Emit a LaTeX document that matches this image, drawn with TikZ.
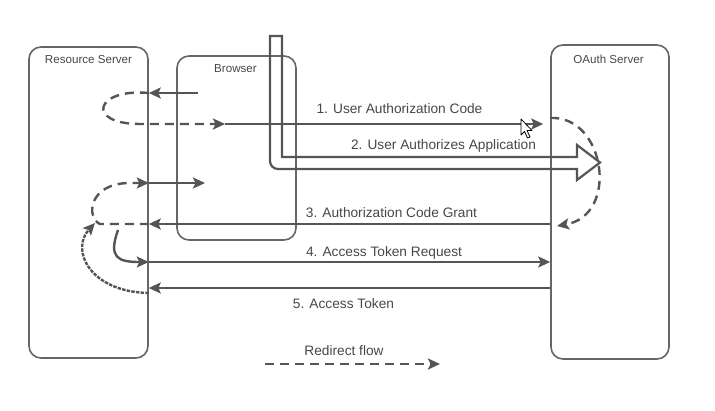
\documentclass[tikz,border=0pt]{standalone}
\usepackage{fontspec}
\setmainfont{Liberation Sans}
\usetikzlibrary{arrows.meta,calc}
\definecolor{ln}{HTML}{555555}
\definecolor{bx}{HTML}{666666}
\definecolor{tx}{HTML}{474747}
\begin{document}
\begin{tikzpicture}[x=1pt,y=-1pt,
  server/.style={draw=bx,line width=1.6pt,rounded corners=12pt,inner sep=0pt},
  title/.style={text=tx,font=\fontsize{11.6}{13}\selectfont,anchor=base,inner sep=0pt},
  lbl/.style={text=tx,font=\fontsize{13.7}{16}\selectfont,anchor=base,inner sep=0pt},
  flow/.style={draw=ln,line width=2.4pt,-{Stealth[length=12pt,width=11pt,inset=2.5pt]}},
  redir/.style={flow,dash pattern=on 9pt off 6pt},
  dotflow/.style={flow,dash pattern=on 3.5pt off 1.2pt},
  hollow/.style={draw=ln,line width=2.2pt,line join=miter},
  pointer/.style={fill=white,draw=black,line width=0.8pt,line join=round}
]
\path[use as bounding box] (0,0) rectangle (715,410);

% servers
\node[server,minimum width=119pt,minimum height=311pt] (rs) at (88.5,202.5) {};
\node[server,minimum width=119pt,minimum height=184pt] (br) at (236.5,148) {};
\node[server,minimum width=118pt,minimum height=314pt] (oa) at (610,202) {};
\node[title] (rst) at (88.5,63.2) {Resource Server};
\node[title] (brt) at (235.5,72.2) {Browser};
\node[title] (oat) at (608.5,63.2) {OAuth Server};

% helper coordinates
\coordinate (p1) at (198,93);
\coordinate (q1) at (225,124);
\coordinate (a1) at (0,118);
\coordinate (a2) at (557,226);
\coordinate (a3) at (0,224);
\coordinate (a4) at (0,183);
\coordinate (b4) at (205,183);
\coordinate (g0) at (118,230);
\coordinate (a5) at (0,262);
\coordinate (a6) at (0,288);
\coordinate (a7) at (0,293);
\coordinate (j1) at (95,223);
\coordinate (lg0) at (265,364);
\coordinate (lg1) at (440,364);

% user hollow arrow
\draw[hollow] (282,36) -- (270,36) {[rounded corners=8pt] -- (270,169) -- (400,169)} -- (577,169) -- (577,180) -- (600,162.5) -- (577,145) -- (577,157) -- (282,157) -- cycle;

% flows
\draw[flow] (p1) -- (rs.east |- p1);
\draw[redir] (rs.east |- p1) .. controls (95,88) and (85,124) .. (140,124) -- (q1);
\draw[flow,shorten >=7pt] (q1) -- (oa.west |- q1);
\draw[redir] (oa.west |- a1) .. controls (605,115) and (620,215) .. (a2);
\draw[flow] (oa.west |- a3) -- (rs.east |- a3);
\draw[redir] (rs.east |- a3) -- (100,224) .. controls (86,218) and (88,183) .. (130,183) -- (rs.east |- a4);
\draw[flow] (rs.east |- a4) -- (b4);
\draw[flow] (g0) .. controls (108,258) and (118,262) .. (rs.east |- a5);
\draw[flow] (rs.east |- a5) -- (oa.west |- a5);
\draw[flow] (oa.west |- a6) -- (rs.east |- a6);
\draw[dotflow] (rs.east |- a7) .. controls (90,292) and (70,250) .. (j1);
\draw[redir] (lg0) -- (lg1);

% mouse pointer
\draw[pointer] (521,119) -- ++(0,16) -- ++(3.5,-3.5) -- ++(3,6.5) -- ++(2.5,-1) -- ++(-3,-6.5) -- ++(5,0) -- cycle;

% labels
\node[lbl] (l1) at (399.5,113.9) {1. User Authorization Code};
\node[lbl] (l2) at (443.5,149.9) {2. User Authorizes Application};
\node[lbl] (l3) at (391.5,217.9) {3. Authorization Code Grant};
\node[lbl] (l4) at (384,256.9) {4. Access Token Request};
\node[lbl] (l5) at (343.5,308.9) {5. Access Token};
\node[lbl] (lg) at (344,355.9) {Redirect flow};
\end{tikzpicture}
\end{document}
